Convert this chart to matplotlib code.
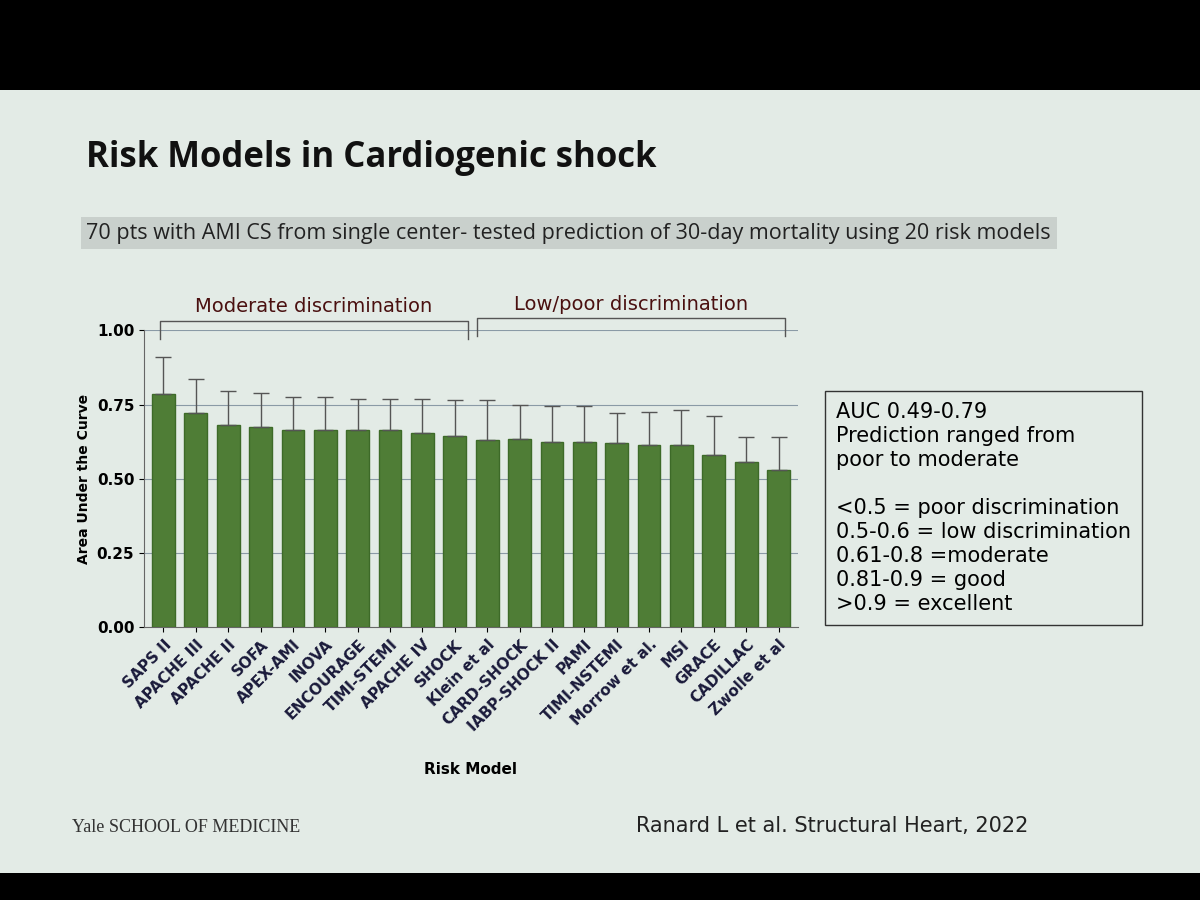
import numpy as np
import matplotlib.pyplot as plt
from matplotlib.patches import Rectangle

# data
models = ["SAPS II", "APACHE III", "APACHE II", "SOFA", "APEX-AMI", "INOVA",
          "ENCOURAGE", "TIMI-STEMI", "APACHE IV", "SHOCK", "Klein et al",
          "CARD-SHOCK", "IABP-SHOCK II", "PAMI", "TIMI-NSTEMI", "Morrow et al.",
          "MSI", "GRACE", "CADILLAC", "Zwolle et al"]
auc = [0.785, 0.72, 0.68, 0.675, 0.665, 0.665, 0.665, 0.665, 0.655, 0.645,
       0.63, 0.635, 0.625, 0.625, 0.62, 0.615, 0.615, 0.58, 0.555, 0.53]
upper = [0.91, 0.835, 0.795, 0.79, 0.775, 0.775, 0.77, 0.77, 0.77, 0.765,
         0.765, 0.75, 0.745, 0.745, 0.72, 0.725, 0.73, 0.71, 0.64, 0.64]
yticks = [0.0, 0.25, 0.5, 0.75, 1.0]

err = np.array(upper) - np.array(auc)

fig = plt.figure(figsize=(12, 9), dpi=100, facecolor="black")
# slide background
fig.patches.append(Rectangle((0.0, 0.03), 1.0, 0.87, transform=fig.transFigure,
                             facecolor="#e3ebe6", zorder=-10))

fig.text(0.072, 0.815, "Risk Models in Cardiogenic shock", fontsize=25,
         fontweight="bold", color="#111111", family="Open Sans")
fig.text(0.072, 0.735, "70 pts with AMI CS from single center- tested prediction of 30-day mortality using 20 risk models",
         fontsize=15.5, color="#222222", family="Open Sans",
         bbox=dict(facecolor="#c9d0cc", edgecolor="none", pad=4))

ax = fig.add_axes([0.12, 0.303, 0.545, 0.33], zorder=5)
ax.set_facecolor("#e3ebe6")
x = np.arange(len(models))
ax.bar(x, auc, width=0.7, color="#4f7d36", edgecolor="#3d6a28", zorder=3)
ax.errorbar(x, auc, yerr=[np.zeros_like(err), err], fmt="none",
            ecolor="#555555", elinewidth=1, capsize=6, zorder=4)
ax.set_ylim(0, 1.0)
ax.set_xlim(-0.6, len(models) - 0.4)
ax.set_yticks(yticks)
ax.set_yticklabels([f"{v:.2f}" for v in yticks], fontsize=11, fontweight="bold")
ax.set_xticks(x)
ax.set_xticklabels(models, rotation=45, ha="right", rotation_mode="anchor",
                   fontsize=11, fontweight="bold", color="#1a1a3a")
for v in yticks[1:]:
    ax.axhline(v, color="#8a9aa6", lw=0.8, zorder=1)
for s in ["top", "right"]:
    ax.spines[s].set_visible(False)
ax.spines["left"].set_color("#666666")
ax.spines["bottom"].set_color("#666666")
ax.set_ylabel("Area Under the Curve", fontsize=10, fontweight="bold")
ax.set_xlabel("Risk Model", fontsize=11, fontweight="bold", labelpad=20)

# brackets
def bracket(x0, x1, y, text):
    ax.plot([x0, x0, x1, x1], [y - 0.06, y, y, y - 0.06], color="#555555",
            lw=1, clip_on=False)
    ax.text((x0 + x1) / 2, y + 0.03, text, ha="center", fontsize=14,
            color="#4a1010", clip_on=False)
bracket(-0.1, 9.4, 1.03, "Moderate discrimination")
bracket(9.7, 19.2, 1.04, "Low/poor discrimination")

fig.text(0.697, 0.318, "AUC 0.49-0.79\nPrediction ranged from\npoor to moderate\n\n"
         "<0.5 = poor discrimination\n0.5-0.6 = low discrimination\n0.61-0.8 =moderate\n"
         "0.81-0.9 = good\n>0.9 = excellent",
         fontsize=15, linespacing=1.25, va="bottom",
         bbox=dict(facecolor="none", edgecolor="#333333", pad=8))

fig.text(0.06, 0.075, "Yale SCHOOL OF MEDICINE", fontsize=13, family="Liberation Serif",
         color="#333333")
fig.text(0.53, 0.075, "Ranard L et al. Structural Heart, 2022", fontsize=15,
         color="#222222")

fig.savefig("out.png", dpi=100, facecolor=fig.get_facecolor())
